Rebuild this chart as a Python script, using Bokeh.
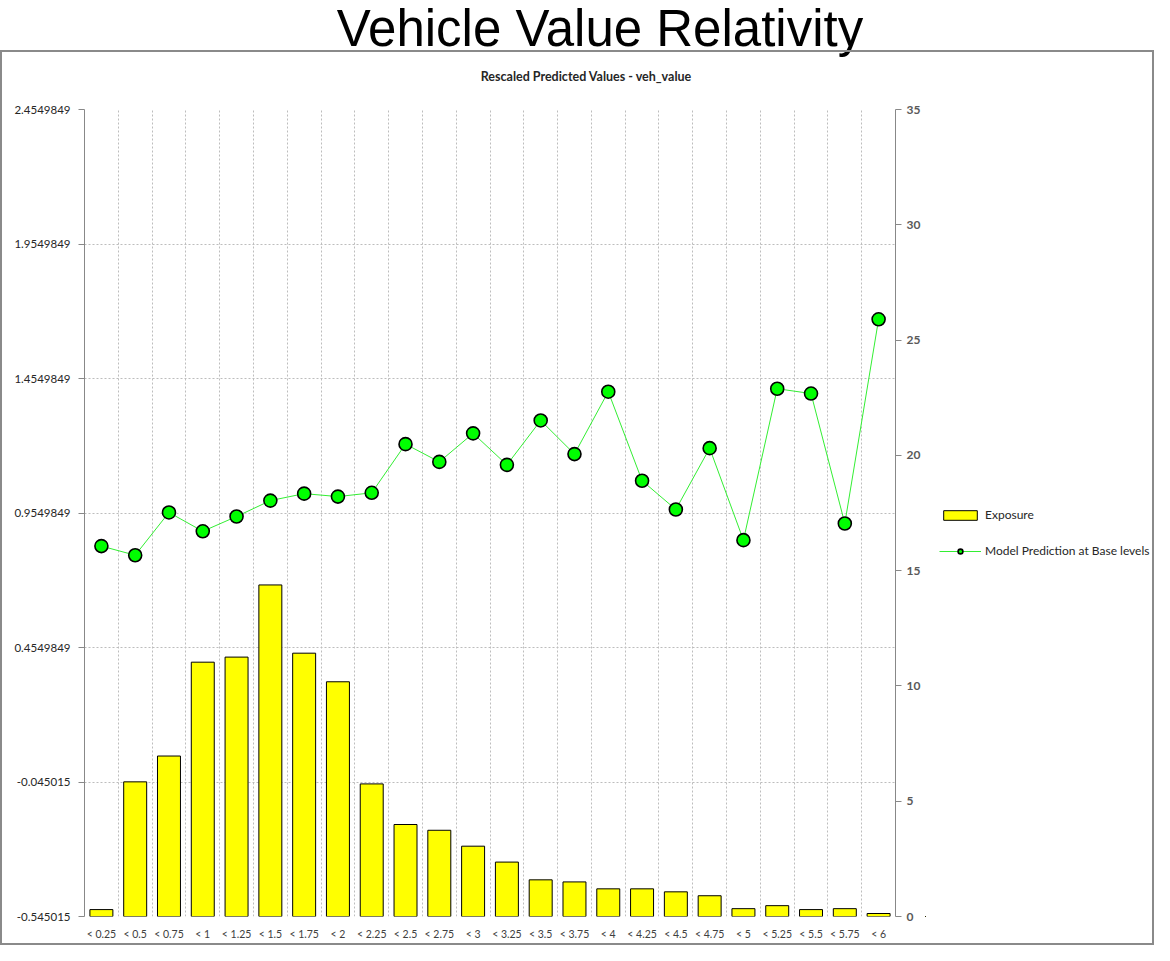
from bokeh.plotting import figure
from bokeh.layouts import column, row
from bokeh.models import (Range1d, LinearAxis, FixedTicker, Legend, LegendItem,
                          ColumnDataSource, Div)
from bokeh.embed import file_html
from bokeh.resources import INLINE

categories = ["< 0.25", "< 0.5", "< 0.75", "< 1", "< 1.25", "< 1.5", "< 1.75", "< 2",
              "< 2.25", "< 2.5", "< 2.75", "< 3", "< 3.25", "< 3.5", "< 3.75", "< 4",
              "< 4.25", "< 4.5", "< 4.75", "< 5", "< 5.25", "< 5.5", "< 5.75", "< 6"]
exposure = [0.30, 5.84, 6.96, 11.03, 11.25, 14.38, 11.42, 10.18, 5.75, 3.99, 3.74, 3.05,
            2.36, 1.59, 1.50, 1.20, 1.20, 1.07, 0.90, 0.34, 0.47, 0.30, 0.34, 0.13]
prediction = [0.832, 0.798, 0.957, 0.887, 0.942, 1.001, 1.027, 1.016, 1.030, 1.211, 1.145,
              1.251, 1.134, 1.299, 1.174, 1.406, 1.075, 0.968, 1.196, 0.854, 1.417, 1.399,
              0.916, 1.675]
left_ticks = [-0.545015, -0.045015, 0.4549849, 0.9549849, 1.4549849, 1.9549849, 2.4549849]
left_tick_labels = ["-0.545015", "-0.045015", "0.4549849", "0.9549849", "1.4549849",
                    "1.9549849", "2.4549849"]
right_ticks = [0, 5, 10, 15, 20, 25, 30, 35]

FONT = "Lato"
BAR_STYLE = dict(fill_color="#ffff00", line_color="black", line_width=1)
LINE_STYLE = dict(line_color="#33ee33", line_width=1)
PT_STYLE = dict(size=13, fill_color="#00ff00", line_color="black", line_width=1.6)

xs = [i + 0.5 for i in range(len(categories))]
src = ColumnDataSource(dict(x=xs, cat=categories, exposure=exposure, pred=prediction))

header = Div(text='<span style="position:relative; left:23px; top:4px">Vehicle Value Relativity</span>',
             width=1154, height=50, margin=0,
             styles={"font-family": "'Liberation Sans', Arial, sans-serif",
                     "font-size": "51px", "line-height": "50px", "text-align": "center",
                     "color": "black", "white-space": "nowrap", "overflow": "visible"})

subtitle = Div(text='<span style="position:relative; left:9px">Rescaled Predicted Values - veh_value</span>',
               width=1150, height=49, margin=0,
               styles={"font-family": FONT, "font-size": "12.5px", "font-weight": "bold",
                       "line-height": "50px", "text-align": "center", "color": "#262626",
                       "white-space": "nowrap"})

p = figure(width=923, height=842, output_backend="svg", toolbar_location=None,
           x_range=Range1d(0, len(categories)),
           y_range=Range1d(left_ticks[0], left_ticks[-1]),
           min_border_left=82, min_border_right=30, min_border_top=8, min_border_bottom=27,
           margin=0)
p.extra_y_ranges = {"right": Range1d(0, 35)}
p.outline_line_color = None
p.background_fill_color = "white"
p.border_fill_color = "white"

# grid
p.xgrid.ticker = FixedTicker(ticks=list(range(1, len(categories))))
p.ygrid.ticker = FixedTicker(ticks=left_ticks)
for g in (p.xgrid, p.ygrid):
    g.grid_line_color = "#bdbdbd"
    g.grid_line_dash = "2 2"
    g.grid_line_width = 1

# x axis
xa = p.xaxis[0]
xa.ticker = FixedTicker(ticks=xs)
xa.major_label_overrides = {x: c for x, c in zip(xs, categories)}
xa.axis_line_color = None
xa.major_tick_line_color = None
xa.minor_tick_line_color = None
xa.major_label_standoff = 5
xa.major_label_text_font = FONT
xa.major_label_text_font_size = "10.5px"
xa.major_label_text_color = "#404040"

# left axis
ya = p.yaxis[0]
ya.ticker = FixedTicker(ticks=left_ticks)
ya.major_label_overrides = {t: s for t, s in zip(left_ticks, left_tick_labels)}
ya.axis_line_color = "#888888"
ya.major_tick_line_color = "#888888"
ya.major_tick_out = 6
ya.major_tick_in = 0
ya.minor_tick_line_color = None
ya.major_label_standoff = 8
ya.major_label_text_font = FONT
ya.major_label_text_font_size = "11.5px"
ya.major_label_text_color = "#262626"

# right axis
ra = LinearAxis(y_range_name="right", ticker=FixedTicker(ticks=right_ticks))
ra.axis_line_color = "#888888"
ra.major_tick_line_color = "#888888"
ra.major_tick_out = 6
ra.major_tick_in = 0
ra.minor_tick_line_color = None
ra.major_label_standoff = 5
ra.major_label_text_font = FONT
ra.major_label_text_font_size = "12px"
ra.major_label_text_font_style = "bold"
ra.major_label_text_color = "#595959"
p.add_layout(ra, "right")

p.vbar(x="x", top="exposure", bottom=0, width=0.68, source=src,
       y_range_name="right", **BAR_STYLE)
p.line(x="x", y="pred", source=src, **LINE_STYLE)
p.scatter(x="x", y="pred", source=src, **PT_STYLE)

# legend panel (right of the plot); its ranges keep the series out of view
lf = figure(width=227, height=842, output_backend="svg", toolbar_location=None,
            x_axis_type=None, y_axis_type=None, min_border=0, margin=0,
            x_range=Range1d(1000, 1001), y_range=Range1d(1000, 1001))
lf.outline_line_color = None
lf.grid.visible = False
lf.background_fill_color = "white"
lf.border_fill_color = "white"
lb = lf.vbar(x="x", top="exposure", bottom=0, width=0.68, source=src, **BAR_STYLE)
ll = lf.line(x="x", y="pred", source=src, **LINE_STYLE)
lp = lf.scatter(x="x", y="pred", source=src, **PT_STYLE)
legend = Legend(items=[LegendItem(label="Exposure", renderers=[lb]),
                       LegendItem(label="Model Prediction at Base levels", renderers=[ll, lp])],
                location=(14, 358), padding=0, margin=0, spacing=21,
                glyph_width=42, glyph_height=12, label_height=12, label_standoff=4,
                border_line_color=None, background_fill_alpha=0,
                label_text_font=FONT, label_text_font_size="12px", label_text_color="#262626")
lf.add_layout(legend)

body = column(subtitle, row(p, lf, spacing=0), spacing=0,
              styles={"border": "2px solid #8a8a8a"})
layout = column(header, body, spacing=0)
open("out.html", "w").write(file_html(layout, INLINE))
